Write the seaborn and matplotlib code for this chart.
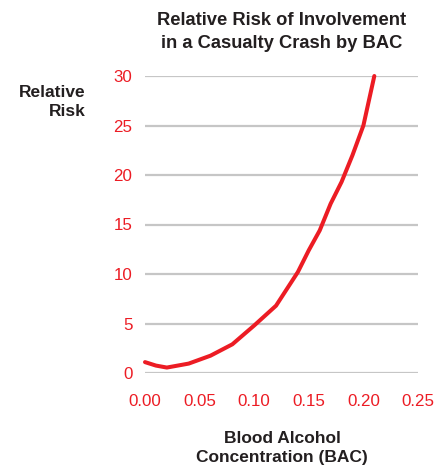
import matplotlib
matplotlib.use("Agg")
import matplotlib.pyplot as plt
import seaborn as sns
import pandas as pd

bac = [0.00, 0.01, 0.02, 0.04, 0.06, 0.08, 0.10, 0.12, 0.14, 0.15, 0.16, 0.17, 0.18, 0.19, 0.20, 0.21]
risk = [1.1, 0.75, 0.55, 0.95, 1.75, 2.9, 4.8, 6.8, 10.2, 12.4, 14.4, 17.1, 19.3, 22.0, 25.0, 30.0]
x_ticks = [0.00, 0.05, 0.10, 0.15, 0.20, 0.25]
y_ticks = [0, 5, 10, 15, 20, 25, 30]

RED = "#ec1c24"
sns.set_theme(style="white")
plt.rcParams['font.family'] = ['Liberation Sans', 'DejaVu Sans']

df = pd.DataFrame({"BAC": bac, "Risk": risk})
fig = plt.figure(figsize=(4.43, 4.67), dpi=100)
ax = fig.add_axes([145/443, 1-373/467, 273/443, 297/467])
sns.lineplot(data=df, x="BAC", y="Risk", ax=ax, color=RED, linewidth=2.9, clip_on=False, zorder=3)
ax.set_xlim(0, 0.25)
ax.set_ylim(0, 30)
ax.set_xticks(x_ticks)
ax.set_xticklabels([f"{v:.2f}" for v in x_ticks])
ax.set_yticks(y_ticks)
ax.set_yticklabels([str(v) for v in y_ticks])
ax.grid(axis='y', color='#c6c6c6', linewidth=1.6)
ax.grid(axis='x', visible=False)
for s in ax.spines.values():
    s.set_visible(False)
ax.tick_params(axis='both', length=0, labelcolor=RED, labelsize=12.2)
ax.tick_params(axis='x', pad=15)
ax.tick_params(axis='y', pad=9)
ax.set_xlabel("")
ax.set_ylabel("")

narrow = ['Liberation Sans Narrow', 'Liberation Sans', 'DejaVu Sans']
fig.text(282/443, 1-32/467, "Relative Risk of Involvement\nin a Casualty Crash by BAC",
         ha='center', va='center', fontsize=13.2, fontweight='bold', family=narrow,
         color='#231f20', linespacing=1.4)
fig.text(86/443, 1-102/467, "Relative\nRisk", ha='right', va='center', fontsize=12.5,
         fontweight='bold', color='#231f20', linespacing=1.32)
fig.text(282/443, 1-448/467, "Blood Alcohol\nConcentration (BAC)", ha='center', va='center',
         fontsize=12.5, fontweight='bold', color='#231f20', linespacing=1.32)
fig.savefig("out.png", dpi=100)
